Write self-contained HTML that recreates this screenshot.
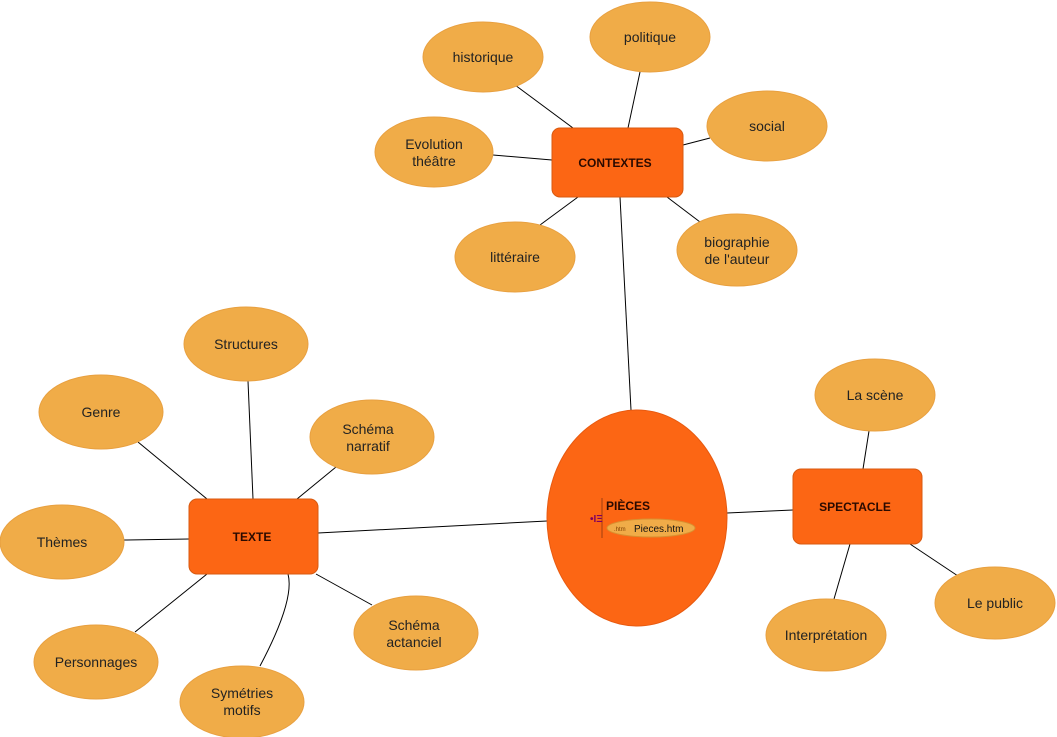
<!DOCTYPE html>
<html><head><meta charset="utf-8"><style>
html,body{margin:0;padding:0;background:#fff;}
svg{display:block;font-family:"Liberation Sans",Arial,sans-serif;}
.e{fill:#F0AC48;stroke:#E8A040;stroke-width:1}
.b{fill:#FC6614;stroke:#D85A10;stroke-width:1}
.t{font-size:14px;fill:#222;text-anchor:middle}
.h{font-size:12px;font-weight:bold;fill:#2a0a00;text-anchor:middle}
line,path{stroke:#000;stroke-width:1;fill:none}
</style></head><body>
<svg width="1057" height="737" viewBox="0 0 1057 737">
<!-- connectors -->
<line x1="573" y1="128" x2="515" y2="85"/>
<line x1="628" y1="128" x2="640" y2="72"/>
<line x1="683" y1="145" x2="710" y2="138"/>
<line x1="552" y1="160" x2="493" y2="155"/>
<line x1="578" y1="197" x2="540" y2="225"/>
<line x1="667" y1="197" x2="700" y2="222"/>
<line x1="620" y1="197" x2="631" y2="410"/>
<line x1="318" y1="533" x2="547" y2="521"/>
<line x1="727" y1="513" x2="793" y2="510"/>
<line x1="863" y1="469" x2="869" y2="431"/>
<line x1="910" y1="544" x2="958" y2="576"/>
<line x1="850" y1="544" x2="834" y2="599"/>
<line x1="253" y1="499" x2="248" y2="381"/>
<line x1="207" y1="499" x2="138" y2="442"/>
<line x1="297" y1="499" x2="336" y2="467"/>
<line x1="189" y1="539" x2="124" y2="540"/>
<line x1="207" y1="574" x2="135" y2="632"/>
<path d="M288 574 Q295 600 260 666"/>
<line x1="316" y1="574" x2="372" y2="605"/>
<!-- central -->
<ellipse cx="637" cy="518" rx="90" ry="108" fill="#FC6614" stroke="#E85A10"/>
<line x1="602" y1="498" x2="602" y2="538" style="stroke:#a04010"/>
<text x="606" y="510" style="font-size:12px;font-weight:bold;fill:#2a0a00">PIÈCES</text>
<text x="590" y="522" style="font-size:10px;fill:#800060;font-weight:bold">•ΙΞ</text>
<ellipse cx="651" cy="528" rx="44" ry="9" fill="#F0AC48" stroke="#D89030"/>
<text x="614" y="531" style="font-size:6px;fill:#804000">.htm</text>
<text x="634" y="532" style="font-size:10px;fill:#111">Pieces.htm</text>
<!-- boxes -->
<rect class="b" x="552" y="128" width="131" height="69" rx="8"/>
<text class="h" x="615" y="167">CONTEXTES</text>
<rect class="b" x="189" y="499" width="129" height="75" rx="8"/>
<text class="h" x="252" y="541">TEXTE</text>
<rect class="b" x="793" y="469" width="129" height="75" rx="8"/>
<text class="h" x="855" y="511">SPECTACLE</text>
<!-- ellipses -->
<ellipse class="e" cx="483" cy="57" rx="60" ry="35"/><text class="t" x="483" y="62">historique</text>
<ellipse class="e" cx="650" cy="37" rx="60" ry="35"/><text class="t" x="650" y="42">politique</text>
<ellipse class="e" cx="767" cy="126" rx="60" ry="35"/><text class="t" x="767" y="131">social</text>
<ellipse class="e" cx="434" cy="152" rx="59" ry="35"/><text class="t" x="434" y="149">Evolution</text><text class="t" x="434" y="166">théâtre</text>
<ellipse class="e" cx="515" cy="257" rx="60" ry="35"/><text class="t" x="515" y="262">littéraire</text>
<ellipse class="e" cx="737" cy="250" rx="60" ry="36"/><text class="t" x="737" y="247">biographie</text><text class="t" x="737" y="264">de l'auteur</text>
<ellipse class="e" cx="246" cy="344" rx="62" ry="37"/><text class="t" x="246" y="349">Structures</text>
<ellipse class="e" cx="101" cy="412" rx="62" ry="37"/><text class="t" x="101" y="417">Genre</text>
<ellipse class="e" cx="372" cy="437" rx="62" ry="37"/><text class="t" x="368" y="434">Schéma</text><text class="t" x="368" y="451">narratif</text>
<ellipse class="e" cx="62" cy="542" rx="62" ry="37"/><text class="t" x="62" y="547">Thèmes</text>
<ellipse class="e" cx="96" cy="662" rx="62" ry="37"/><text class="t" x="96" y="667">Personnages</text>
<ellipse class="e" cx="242" cy="702" rx="62" ry="36"/><text class="t" x="242" y="698">Symétries</text><text class="t" x="242" y="715">motifs</text>
<ellipse class="e" cx="416" cy="633" rx="62" ry="37"/><text class="t" x="414" y="630">Schéma</text><text class="t" x="414" y="647">actanciel</text>
<ellipse class="e" cx="875" cy="395" rx="60" ry="36"/><text class="t" x="875" y="400">La scène</text>
<ellipse class="e" cx="995" cy="603" rx="60" ry="36"/><text class="t" x="995" y="608">Le public</text>
<ellipse class="e" cx="826" cy="635" rx="60" ry="36"/><text class="t" x="826" y="640">Interprétation</text>
</svg>
</body></html>
